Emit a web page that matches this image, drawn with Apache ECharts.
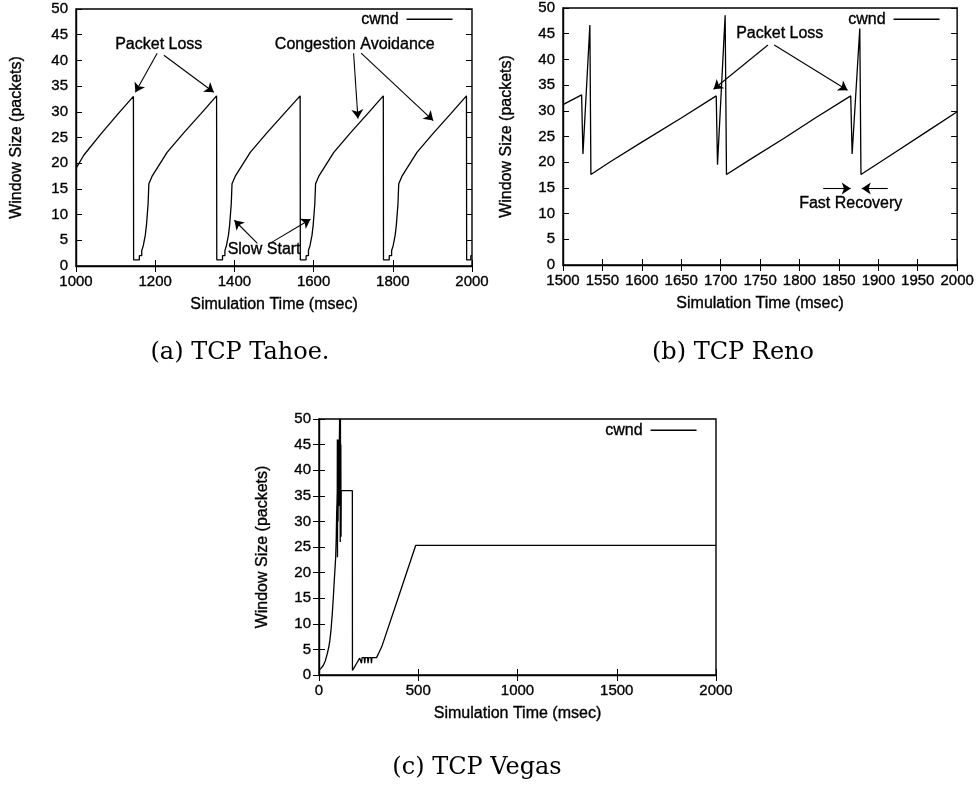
<!DOCTYPE html>
<html>
<head>
<meta charset="utf-8">
<script src="https://cdn.jsdelivr.net/npm/echarts@6/dist/echarts.min.js"></script>
<style>
  html, body { margin: 0; padding: 0; background: #fff; }
  #chart { width: 977px; height: 789px; }
</style>
</head>
<body>
<div id="chart"></div>
<script>
// Congestion window traces: [simulation time (ms), cwnd (packets)]
const tahoeCwnd = [
  [1000, 19.0], [1020, 21.6], [1062, 25.6], [1105, 29.5], [1145, 33.0],
  [1145.5, 1.2], [1160, 1.2], [1160, 2], [1166, 2], [1166, 3], [1170, 3], [1170, 4],
  [1175, 4], [1175, 6], [1178, 6], [1178, 8], [1182, 8], [1182, 12], [1184, 12],
  [1184, 16], [1189, 16], [1193, 17.6], [1230, 22.1], [1272, 25.9], [1315, 29.6], [1355, 33.1],
  [1355.5, 1.2], [1370, 1.2], [1370, 2], [1376, 2], [1376, 3], [1380, 3], [1380, 4],
  [1385, 4], [1385, 6], [1388, 6], [1388, 8], [1392, 8], [1392, 12], [1394, 12],
  [1394, 16], [1399, 16], [1403, 17.6], [1440, 22.1], [1482, 25.9], [1525, 29.6], [1566, 33.1],
  [1566.5, 1.2], [1581, 1.2], [1581, 2], [1587, 2], [1587, 3], [1591, 3], [1591, 4],
  [1596, 4], [1596, 6], [1599, 6], [1599, 8], [1603, 8], [1603, 12], [1605, 12],
  [1605, 16], [1610, 16], [1614, 17.6], [1651, 22.1], [1693, 25.9], [1736, 29.6], [1776, 33.1],
  [1776.5, 1.2], [1791, 1.2], [1791, 2], [1797, 2], [1797, 3], [1801, 3], [1801, 4],
  [1806, 4], [1806, 6], [1809, 6], [1809, 8], [1813, 8], [1813, 12], [1815, 12],
  [1815, 16], [1820, 16], [1824, 17.6], [1861, 22.1], [1903, 25.9], [1946, 29.6], [1986, 33.1],
  [1986.5, 1.2], [1997, 1.2], [1997, 2], [2000, 2]
];

const renoCwnd = [
  [1500, 31.2], [1523.6, 33.1], [1525.3, 21.6], [1534.1, 46.7], [1535.4, 17.6],
  [1560, 20.1], [1600, 23.9], [1650, 28.6], [1694.4, 32.9],
  [1696, 19.5], [1705.7, 48.6], [1707.4, 17.6],
  [1740, 20.8], [1780, 24.6], [1820, 28.6], [1865, 32.9],
  [1866.8, 21.6], [1876.5, 46.0], [1878, 17.6],
  [1920, 21.8], [1960, 25.8], [2000, 29.8]
];

const vegasCwnd = [
  [0, 0.9], [10, 1.3], [22, 1.9], [32, 2.8], [42, 4.2], [50, 5.6], [55, 6.8], [61, 9],
  [67, 12], [72, 15], [77, 18.5], [81, 21], [84, 23], [87, 27], [89, 31.6], [91, 34], [92, 36],
  [92.5, 46], [93, 23], [94, 38], [95, 42], [96, 30], [97, 40], [99, 46], [100, 33],
  [102, 44], [104, 50], [105, 35], [106, 50], [107, 26], [108, 50], [109, 30], [110, 45],
  [111, 27], [112, 36], [168, 36], [168.5, 0.9], [175, 1.3], [190, 2.3], [205, 3.3],
  [212, 3.4], [214, 2.3], [217, 3.4], [228, 3.4], [230, 2.3], [233, 3.4], [245, 3.4],
  [247, 2.3], [250, 3.4], [262, 3.4], [264, 2.3], [267, 3.4], [290, 3.4], [300, 4.2],
  [316, 5.5], [400, 15.2], [487, 25.3], [2000, 25.3]
];

// Axis ranges (ms) and tick spacing
const tahoeRange = [1000, 2000, 200];
const renoRange = [1500, 2000, 50];
const vegasRange = [0, 2000, 500];
const windowRange = [0, 50, 5];

// Annotation arrows as [from, to] pairs in data units
const tahoeArrows = [
  [[1205, 41.4], [1150, 33.8]],
  [[1222, 41.0], [1348, 33.8]],
  [[1701, 41.4], [1712, 28.7]],
  [[1720, 41.4], [1902, 28.3]],
  [[1458, 4.4], [1400, 8.9]],
  [[1492, 4.5], [1592, 9.1]]
];
const renoArrows = [
  [[1760, 42.8], [1691, 34.2]],
  [[1768, 42.8], [1861, 34.0]],
  [[1830, 14.9], [1865, 14.9]],
  [[1912, 14.9], [1879, 14.9]]
];

// Annotation labels, anchored at their centre in data units
const tahoeNotes = [
  ['Packet Loss', 1209, 43.1],
  ['Congestion Avoidance', 1704, 43.1],
  ['Slow Start', 1475, 3.1]
];
const renoNotes = [
  ['Packet Loss', 1775, 45.1],
  ['Fast Recovery', 1865, 12.0]
];

const captions = ['(a) TCP Tahoe.', '(b) TCP Reno', '(c) TCP Vegas'];

const SANS = '"Liberation Sans", Arial, Helvetica, sans-serif';
const INK = '#000';
// light outline thickens the sans text a little
const HEAVY = { textBorderColor: '#000', textBorderWidth: 0.35 };

const grids = [
  { left: 76, top: 9, width: 396, height: 257 },
  { left: 563, top: 8, width: 395, height: 257 },
  { left: 319, top: 419, width: 397, height: 256 }
].map(g => Object.assign(g, { show: true, borderColor: INK, borderWidth: 1.4, backgroundColor: '#fff' }));

const plainNumber = v => String(v);

function bottomAxis(gi, r, gap) {
  return {
    type: 'value', gridIndex: gi, position: 'bottom', min: r[0], max: r[1], interval: r[2],
    name: 'Simulation Time (msec)', nameLocation: 'middle', nameGap: gap,
    nameTextStyle: Object.assign({ fontFamily: SANS, fontSize: 16, color: INK }, HEAVY),
    axisLine: { show: true, onZero: false, lineStyle: { color: INK, width: 1.4 } },
    axisTick: { show: true, inside: true, length: 6, lineStyle: { color: INK, width: 1 } },
    axisLabel: Object.assign({ show: true, margin: 8, fontFamily: SANS, fontSize: 15, color: INK, formatter: plainNumber }, HEAVY),
    splitLine: { show: false }
  };
}
function topAxis(gi, r) {
  return {
    type: 'value', gridIndex: gi, position: 'top', min: r[0], max: r[1], interval: r[2],
    axisLine: { show: false },
    axisTick: { show: true, inside: true, length: 6, lineStyle: { color: INK, width: 1 } },
    axisLabel: { show: false }, splitLine: { show: false }
  };
}
function leftAxis(gi, gap) {
  return {
    type: 'value', gridIndex: gi, position: 'left',
    min: windowRange[0], max: windowRange[1], interval: windowRange[2],
    name: 'Window Size (packets)', nameLocation: 'middle', nameGap: gap, nameRotate: 90,
    nameTextStyle: Object.assign({ fontFamily: SANS, fontSize: 16, color: INK }, HEAVY),
    axisLine: { show: true, onZero: false, lineStyle: { color: INK, width: 1.4 } },
    axisTick: { show: true, inside: true, length: 6, lineStyle: { color: INK, width: 1 } },
    axisLabel: Object.assign({ show: true, margin: 8, fontFamily: SANS, fontSize: 15, color: INK, formatter: plainNumber }, HEAVY),
    splitLine: { show: false }
  };
}
function rightAxis(gi) {
  return {
    type: 'value', gridIndex: gi, position: 'right',
    min: windowRange[0], max: windowRange[1], interval: windowRange[2],
    axisLine: { show: false },
    axisTick: { show: true, inside: true, length: 6, lineStyle: { color: INK, width: 1 } },
    axisLabel: { show: false }, splitLine: { show: false }
  };
}

function arrowLines(arrows) {
  return {
    silent: true, animation: false,
    symbol: ['none', 'arrow'], symbolSize: 9,
    lineStyle: { color: INK, width: 1.1, type: 'solid' },
    label: { show: false },
    emphasis: { disabled: true },
    data: arrows.map(a => [{ coord: a[0] }, { coord: a[1] }])
  };
}
function notePoints(notes) {
  return {
    silent: true, animation: false,
    symbol: 'circle', symbolSize: 1,
    itemStyle: { color: 'rgba(0,0,0,0)' },
    label: Object.assign({ show: true, position: 'inside', formatter: '{b}', fontFamily: SANS, fontSize: 16, color: INK }, HEAVY),
    emphasis: { disabled: true },
    data: notes.map(n => ({ name: n[0], coord: [n[1], n[2]] }))
  };
}

function cwndSeries(idx, data, extra) {
  return Object.assign({
    name: 'cwnd', type: 'line', xAxisIndex: idx, yAxisIndex: idx,
    data: data, showSymbol: false, symbol: 'none', clip: true,
    lineStyle: { color: INK, width: 1.3 }, itemStyle: { color: INK },
    emphasis: { disabled: true }, animation: false
  }, extra || {});
}

function legendAt(left, top) {
  return {
    data: ['cwnd'], left: left, top: top, orient: 'horizontal', align: 'right',
    padding: 0, itemWidth: 46, itemHeight: 1.5, itemGap: 0, icon: 'rect',
    selectedMode: false,
    textStyle: Object.assign({ fontFamily: SANS, fontSize: 16, color: INK, padding: [0, 3, 0, 0] }, HEAVY)
  };
}

const option = {
  backgroundColor: '#fff',
  animation: false,
  grid: grids,
  xAxis: [
    bottomAxis(0, tahoeRange, 31), bottomAxis(1, renoRange, 31), bottomAxis(2, vegasRange, 31),
    topAxis(0, tahoeRange), topAxis(1, renoRange), topAxis(2, vegasRange)
  ],
  yAxis: [
    leftAxis(0, 51), leftAxis(1, 48), leftAxis(2, 48),
    rightAxis(0), rightAxis(1), rightAxis(2)
  ],
  legend: [legendAt(361, 11), legendAt(848, 11), legendAt(605, 422)],
  series: [
    cwndSeries(0, tahoeCwnd, { markLine: arrowLines(tahoeArrows), markPoint: notePoints(tahoeNotes) }),
    cwndSeries(1, renoCwnd, { markLine: arrowLines(renoArrows), markPoint: notePoints(renoNotes) }),
    cwndSeries(2, vegasCwnd)
  ],
  graphic: [
    [240, 353], [733, 353], [477, 768]
  ].map((p, i) => ({
    type: 'text', x: p[0], y: p[1], silent: true,
    style: {
      text: captions[i], fill: INK, align: 'center', verticalAlign: 'middle',
      font: '24px "DejaVu Serif", "Liberation Serif", serif'
    }
  }))
};

const chart = echarts.init(document.getElementById('chart'), null, { renderer: 'canvas' });
chart.setOption(option);
</script>
</body>
</html>
